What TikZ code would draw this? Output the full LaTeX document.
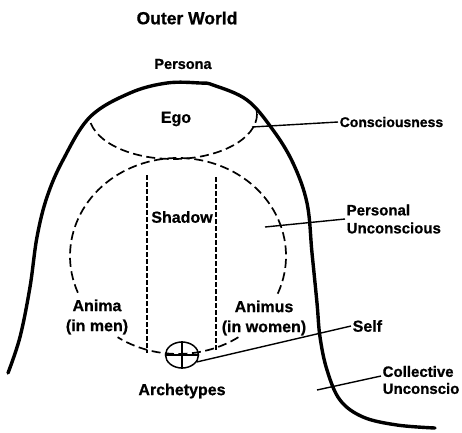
\documentclass[tikz,border=0pt]{standalone}
\usepackage{fontspec}
\setmainfont{Liberation Sans}[BoldFeatures={FakeBold=0.8}]
\usetikzlibrary{shapes.geometric}
\begin{document}
\begin{tikzpicture}[x=1pt,y=-1pt,
  lbl/.style={font=\bfseries\fontsize{16}{20}\selectfont, inner sep=1.5pt},
  thickcurve/.style={line width=3.4pt, line join=round, line cap=round},
  bigdash/.style={line width=1.7pt, dash pattern=on 9pt off 4.5pt},
  smalldash/.style={line width=1.3pt, dash pattern=on 4.5pt off 2.5pt},
  leader/.style={line width=1.4pt}]
\useasboundingbox (0,0) rectangle (462,432);

% ego region (dashed ellipse clipped by outer curve)
\begin{scope}
\clip plot[smooth,tension=0.6] coordinates {(8,373) (20,337) (30,287) (37,237) (47,197) (63,160) (90,117) (130,93) (167,83) (200,83) (213,85) (247,100) (273,130) (293,163) (307,203) (312,253) (317,303) (320,337) (327,370) (340,400) (363,417) (397,425) (435,428)} -- cycle;
\draw[bigdash] (173,114) ellipse [x radius=84, y radius=45];
\end{scope}

% outer boundary
\draw[thickcurve] plot[smooth,tension=0.6] coordinates {(8,373) (20,337) (30,287) (37,237) (47,197) (63,160) (90,117) (130,93) (167,83) (200,83) (213,85) (247,100) (273,130) (293,163) (307,203) (312,253) (317,303) (320,337) (327,370) (340,400) (363,417) (397,425) (435,428)};

% personal unconscious
\draw[bigdash] (77.9,292.7) arc[start angle=158, end angle=385, x radius=108, y radius=98];
\draw[bigdash] (238.4,337.2) arc[start angle=56, end angle=124, x radius=108, y radius=98];

% shadow
\draw[smalldash] (147,175) -- (147,353);
\draw[smalldash] (216,177) -- (216,351);

% self symbol
\node[draw, ellipse, line width=1.5pt, minimum width=33pt, minimum height=26pt, inner sep=0pt] (selfsym) at (182,355) {};
\draw[line width=1.2pt] (selfsym.north) -- (selfsym.south) (selfsym.west) -- (selfsym.east);

% labels
\node[lbl, font=\bfseries\fontsize{17.5}{20}\selectfont] (outer) at (187,18) {Outer World};
\node[lbl, font=\bfseries\fontsize{14.5}{20}\selectfont] (persona) at (183,64) {Persona};
\node[lbl] (ego) at (176,119) {Ego};
\node[lbl] (shadow) at (182,217) {Shadow};
\node[lbl, align=center] (anima) at (97,317) {Anima\\(in men)};
\node[lbl, align=center] (animus) at (264,318) {Animus\\(in women)};
\node[lbl] (arch) at (182,391) {Archetypes};
\node[lbl, font=\bfseries\fontsize{14}{20}\selectfont, anchor=west] (cons) at (338,122) {Consciousness};
\node[lbl, font=\bfseries\fontsize{15}{18}\selectfont, anchor=west, align=left] (pers) at (345,219) {Personal\\Unconscious};
\node[lbl, anchor=west] (selflbl) at (351,326) {Self};
\node[lbl, font=\bfseries\fontsize{15}{17}\selectfont, anchor=west, align=left] (coll) at (381,380) {Collective\\Unconscio};

% connectors
\coordinate (consA) at (252,127);
\coordinate (persA) at (265,227);
\coordinate (collA) at (317,390);
\draw[leader] (consA) -- (cons.west);
\draw[leader] (persA) -- (pers.west);
\draw[leader] (selfsym.-25) -- (selflbl.west);
\draw[leader] (collA) -- ([yshift=4pt]coll.west);
\end{tikzpicture}
\end{document}
